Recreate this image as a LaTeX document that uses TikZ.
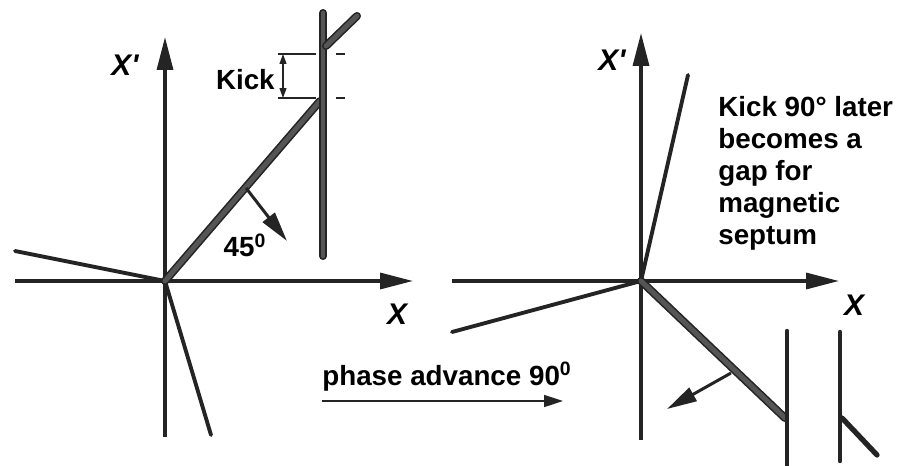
\documentclass[tikz,border=0pt]{standalone}
\usepackage{fontspec}
\setmainfont{Liberation Sans}
\usetikzlibrary{arrows.meta}
\definecolor{InkGray}{HTML}{242424}
\definecolor{BeamGray}{HTML}{555555}

\begin{document}
\begin{tikzpicture}[x=0.02cm, y=-0.02cm,
    axis/.style={InkGray, line width=1.9pt, -{Triangle[length=0.66cm, width=0.32cm]}},
    beam/.style={InkGray, line width=2.2pt, line cap=round},
    thickbeam/.style={draw=InkGray, double=BeamGray, double distance=2.8pt, line width=0.9pt, line cap=round},
    septum/.style={InkGray, line width=2.5pt, line cap=round},
    perp/.style={InkGray, line width=1.7pt, -{Triangle[length=0.6cm, width=0.3cm]}},
    kickline/.style={InkGray, line width=0.7pt},
    lbl/.style={inner sep=0pt, font=\bfseries\fontsize{15.8}{18.2}\selectfont},
    axlbl/.style={inner sep=0pt, font=\bfseries\itshape\fontsize{17}{19}\selectfont}
  ]
    \useasboundingbox (0,0) rectangle (899,466);

    % left phase space: before the kick
    \coordinate (O1) at (165,281);
    \coordinate (xA1) at (15,281);
    \coordinate (xB1) at (413,281);
    \coordinate (yA1) at (165,437);
    \coordinate (yB1) at (165,37);
    \draw[axis] (xA1) -- (xB1);
    \draw[axis] (yA1) -- (yB1);
    \node[axlbl] (xpA) at (125,65) {X\textquotesingle};
    \node[axlbl] (xA) at (397,314) {X};

    \coordinate (lft1) at (15,251);
    \coordinate (dwn1) at (211,435);
    \draw[beam] (lft1) -- (O1);
    \draw[beam] (O1) -- (dwn1);

    \coordinate (hit1) at (320,101);
    \coordinate (sepT) at (323,13);
    \coordinate (sepB) at (323,256);
    \coordinate (kk1) at (326,46);
    \coordinate (kk2) at (357,16);
    \draw[thickbeam] (O1) -- (hit1);
    \draw[thickbeam] (sepT) -- (sepB);
    \draw[thickbeam] (kk1) -- (kk2);

    % kick size
    \coordinate (kTop) at (283,54);
    \coordinate (kBot) at (283,98);
    \draw[kickline] (278,54) -- (316,54);
    \draw[kickline] (278,98) -- (316,98);
    \draw[kickline] (336,54) -- (345,54);
    \draw[kickline] (336,98) -- (345,98);
    \draw[kickline, {Triangle[length=0.2cm, width=0.14cm]}-{Triangle[length=0.2cm, width=0.14cm]}] (kTop) -- (kBot);
    \node[lbl, anchor=east] (kick) at (275,80) {Kick};

    \coordinate (pf1) at (246,188);
    \coordinate (pt1) at (287,241);
    \draw[perp] (pf1) -- (pt1);
    \node[lbl] (ang) at (245,245) {45$^{\mathbf{0}}$};

    % phase advance
    \node[lbl, anchor=base west] (phase) at (322,385) {phase advance 90$^{\mathbf{0}}$};
    \coordinate (pa1) at (322,401);
    \coordinate (pa2) at (563,401);
    \draw[InkGray, line width=0.9pt, -{Triangle[length=0.38cm, width=0.24cm]}] (pa1) -- (pa2);

    % right phase space: 90 degrees later
    \coordinate (O2) at (641,281);
    \coordinate (xA2) at (452,281);
    \coordinate (xB2) at (839,281);
    \coordinate (yA2) at (641,440);
    \coordinate (yB2) at (641,33);
    \draw[axis] (xA2) -- (xB2);
    \draw[axis] (yA2) -- (yB2);
    \node[axlbl] (xpB) at (612,60) {X\textquotesingle};
    \node[axlbl] (xB) at (854,305) {X};

    \coordinate (up2) at (688,75);
    \coordinate (lft2) at (452,332);
    \draw[beam] (O2) -- (up2);
    \draw[beam] (O2) -- (lft2);

    \coordinate (hit2) at (785,418);
    \coordinate (s1T) at (787,331);
    \coordinate (s1B) at (787,466);
    \coordinate (s2T) at (840,332);
    \coordinate (s2B) at (840,461);
    \coordinate (kk3) at (842,418);
    \coordinate (kk4) at (877,455);
    \draw[thickbeam] (O2) -- (hit2);
    \draw[septum] (s1T) -- (s1B);
    \draw[septum] (s2T) -- (s2B);
    \draw[septum, line width=3pt] (kk3) -- (kk4);

    \coordinate (pf2) at (731,373);
    \coordinate (pt2) at (667,409);
    \draw[perp] (pf2) -- (pt2);

    \node[lbl, anchor=north west, align=left] (note) at (718,96)
      {Kick 90° later\\becomes a\\gap for\\magnetic\\septum};
  \end{tikzpicture}
\end{document}
